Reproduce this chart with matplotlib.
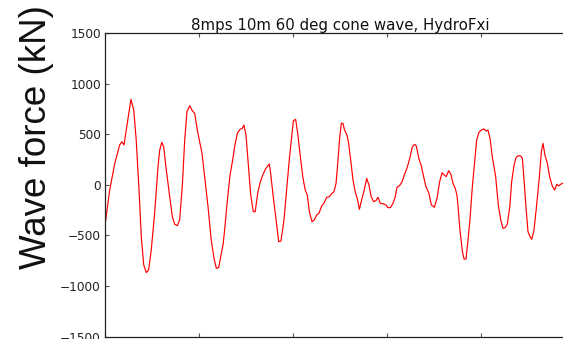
import matplotlib
matplotlib.use("Agg")
import matplotlib.pyplot as plt

time_s = [0.0, 2.5, 5.2, 7.8, 9.0, 10.1, 11.3, 12.6, 13.8, 15.3, 16.6, 18.1, 19.3, 20.6, 22.0,
          23.2, 24.6, 26.4, 28.2, 29.1, 30.2, 31.2, 32.6, 34.4, 35.8, 37.1, 38.5, 39.7, 41.1,
          42.4, 43.6, 45.1, 46.4, 47.7, 49.1, 51.6, 53.0, 54.8, 56.5, 58.0, 59.2, 60.5, 61.9,
          62.9, 63.8, 65.1, 66.5, 67.9, 69.1, 70.4, 71.8, 73.0, 73.9, 75.0, 76.2, 77.5, 78.9,
          79.9, 81.2, 82.4, 83.9, 85.6, 87.4, 88.1, 89.5, 91.0, 92.4, 93.6, 95.2, 96.6, 98.0,
          99.3, 100.2, 101.4, 102.5, 103.7, 105.2, 106.5, 107.6, 108.7, 110.1, 111.3, 112.6,
          113.8, 115.3, 116.5, 117.9, 119.3, 120.7, 121.8, 122.9, 123.8, 124.8, 125.7, 126.6,
          127.3, 128.7, 129.6, 130.9, 131.9, 133.1, 134.4, 135.3, 136.5, 137.9, 139.2, 140.4,
          141.6, 142.9, 144.1, 145.2, 146.4, 148.2, 149.5, 150.4, 151.8, 153.2, 154.4, 155.3,
          156.8, 158.0, 159.2, 160.6, 162.1, 163.5, 164.7, 165.6, 166.9, 168.1, 169.5, 170.6,
          172.3, 173.6, 175.2, 176.6, 178.0, 179.3, 180.5, 181.5, 182.8, 184.0, 185.1, 186.3,
          187.2, 187.8, 188.8, 190.1, 191.0, 192.0, 193.1, 194.1, 195.4, 196.7, 197.7, 198.9,
          200.2, 201.6, 202.7, 203.7, 204.8, 206.0, 207.8, 209.2, 210.5, 211.7, 212.8, 214.0,
          215.3, 216.3, 217.6, 218.6, 219.8, 221.1, 222.0, 222.9, 223.9, 225.0, 226.1, 227.0,
          228.2, 229.6, 230.9, 232.1, 233.0, 234.0, 235.3, 236.5, 237.9, 239.2, 240.3, 241.3,
          242.3, 243.4, 245.0]

force_kn = [-400, -51, 213, 394, 426, 394, 542, 707, 845, 739, 443, -51, -512, -792, -867,
            -841, -644, -281, 180, 344, 420, 377, 147, -117, -314, -390, -403, -347, -18,
            443, 723, 782, 733, 707, 542, 312, 81, -216, -545, -726, -825, -815, -680,
            -578, -413, -150, 97, 245, 394, 509, 548, 558, 591, 492, 213, -100, -265,
            -265, -84, 15, 97, 163, 206, 114, -117, -347, -561, -555, -347, -51, 245,
            476, 634, 647, 509, 312, 81, -51, -100, -265, -364, -347, -298,
            -281, -206, -182, -123, -117, -84, -68, 15, 213, 459, 608, 608,
            548, 492, 410, 213, 48, -68, -150, -242, -150, -51, 64, -2,
            -117, -166, -156, -123, -182, -189, -199, -225, -225, -182, -117, -25,
            -5, 31, 97, 163, 262, 377, 400, 384, 262, 196, 81, -11,
            -84, -199, -222, -133, 31, 120, 97, 81, 140, 104, 15, -35,
            -100, -216, -446, -660, -733, -733, -545, -347, -18, 245, 443, 519,
            542, 552, 532, 542, 459, 278, 81, -199, -347, -430, -423, -387,
            -216, 31, 196, 268, 288, 285, 262, 48, -216, -463, -512, -538,
            -446, -199, 48, 328, 410, 295, 213, 81, -11, -51, 5, -11,
            5, 15, 10]

y_ticks = [-1500, -1000, -500, 0, 500, 1000, 1500]
x_ticks = [0, 50, 100, 150, 200, 250]

W, H = 563, 339
fig = plt.figure(figsize=(W / 100, H / 100), dpi=100)
ax = fig.add_axes([105 / W, 2.3 / H, 470 / W, 303.7 / H])

ax.plot(time_s, force_kn, color='red', linewidth=0.85)
ax.set_xlim(0, 250)
ax.set_ylim(-1500, 1500)
ax.set_yticks(y_ticks)
ax.set_xticks(x_ticks)
ax.set_xticklabels([])
ax.tick_params(direction='in', length=3, width=0.8, top=True, right=True,
               labelsize=8.7, pad=3, colors='#555555', labelcolor='#222222')
for s in ax.spines.values():
    s.set_color('#222222')
    s.set_linewidth(0.9)

ax.set_title("8mps 10m 60 deg cone wave, HydroFxi", fontsize=10.8, pad=2.5,
             color='#111111')

fig.text(36.5 / W, 1 - 137 / H, "Wave force (kN)", rotation=90, ha='center', va='center',
         fontsize=26.5, family=['Liberation Sans', 'DejaVu Sans'], color='#111111')

fig.savefig("out.png", dpi=100)
